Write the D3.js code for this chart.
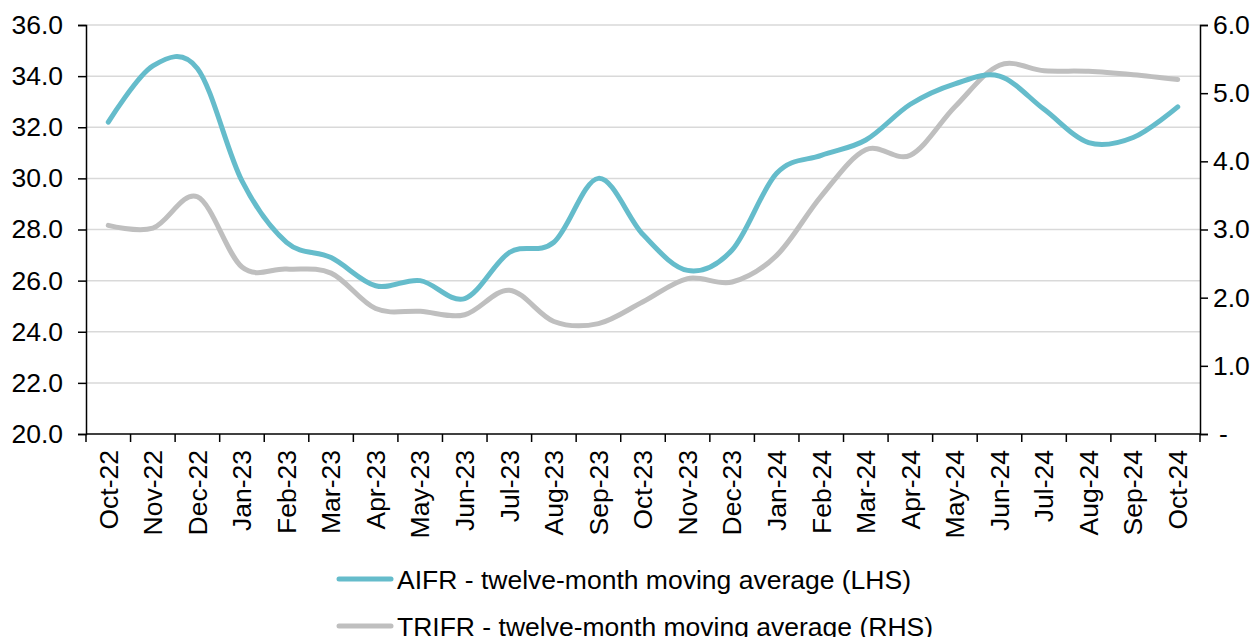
<!DOCTYPE html>
<html><head><meta charset="utf-8">
<script src="https://cdn.jsdelivr.net/npm/d3@7"></script>
<style>
html,body{margin:0;padding:0;background:#fff;}
svg{display:block;font-family:"Liberation Sans",Arial,sans-serif;}
</style></head>
<body><svg id="c" width="1257" height="637"></svg>
<script>
const months = ["Oct-22","Nov-22","Dec-22","Jan-23","Feb-23","Mar-23","Apr-23","May-23","Jun-23","Jul-23","Aug-23","Sep-23","Oct-23","Nov-23","Dec-23","Jan-24","Feb-24","Mar-24","Apr-24","May-24","Jun-24","Jul-24","Aug-24","Sep-24","Oct-24"];
const aifr = [32.2,34.4,34.3,29.9,27.5,26.9,25.8,26.0,25.3,27.1,27.5,30.0,27.8,26.4,27.2,30.2,30.9,31.5,32.9,33.7,34.0,32.7,31.4,31.6,32.8];
const trifr = [3.06,3.02,3.48,2.45,2.42,2.36,1.84,1.80,1.75,2.11,1.65,1.62,1.94,2.28,2.23,2.62,3.49,4.17,4.09,4.80,5.41,5.33,5.32,5.27,5.20];
const leftTicks = [20,22,24,26,28,30,32,34,36];
const rightTicks = [0,1,2,3,4,5,6];
const seriesNames = ["AIFR - twelve-month moving average (LHS)","TRIFR - twelve-month moving average (RHS)"];
const colors = ["#65BCCB","#BFBFBF"];

const svg = d3.select("#c");
const L = 86, R = 1200, T = 25, B = 434;
const x = d3.scaleBand().domain(months).range([L, R]).padding(0);
const yL = d3.scaleLinear().domain([20, 36]).range([B, T]);
const yR = d3.scaleLinear().domain([0, 6]).range([B, T]);
const fs = 26.5;
const ff = "Liberation Sans, Arial, sans-serif";

// gridlines
svg.append("g").selectAll("line").data(leftTicks.filter(d => d > 20)).join("line")
  .attr("x1", L).attr("x2", R).attr("y1", d => yL(d)).attr("y2", d => yL(d))
  .attr("stroke", "#D9D9D9").attr("stroke-width", 1.5);

// left axis
const gl = svg.append("g").attr("transform", `translate(${L},0)`)
  .call(d3.axisLeft(yL).tickValues(leftTicks).tickFormat(d3.format(".1f")).tickSize(8).tickPadding(15));
gl.selectAll("text").attr("font-size", fs).attr("fill", "#000").attr("font-family", ff);

// right axis
const gr = svg.append("g").attr("transform", `translate(${R},0)`)
  .call(d3.axisRight(yR).tickValues(rightTicks).tickFormat(d => d === 0 ? "-" : d3.format(".1f")(d)).tickSize(8).tickPadding(5));
gr.selectAll("text").attr("font-size", fs).attr("fill", "#000").attr("font-family", ff);
gr.selectAll("text").filter(d => d === 0).attr("dx", 6);

// bottom axis
const gb = svg.append("g").attr("transform", `translate(0,${B})`)
  .call(d3.axisBottom(x).tickSize(0).tickPadding(0));
gb.select(".domain").remove();
gb.selectAll("text").attr("font-size", fs).attr("fill", "#000").attr("font-family", ff)
  .attr("transform", "rotate(-90)").attr("text-anchor", "end")
  .attr("x", -16).attr("y", 0).attr("dy", "0.35em");
svg.append("line").attr("x1", L).attr("x2", R).attr("y1", B).attr("y2", B).attr("stroke", "#000").attr("stroke-width", 1.5);
const bounds = months.map(m => x(m)).concat([R]);
svg.append("g").selectAll("line").data(bounds).join("line")
  .attr("x1", d => d).attr("x2", d => d).attr("y1", B).attr("y2", B + 8)
  .attr("stroke", "#000").attr("stroke-width", 1.5);

svg.selectAll(".domain").attr("stroke", "#000").attr("stroke-width", 1.5);
svg.selectAll(".tick line").attr("stroke", "#000").attr("stroke-width", 1.5);

const cx = m => x(m) + x.bandwidth() / 2;
const curve = d3.curveCatmullRom.alpha(0);
const lineL = d3.line().x((d, i) => cx(months[i])).y(d => yL(d)).curve(curve);
const lineR = d3.line().x((d, i) => cx(months[i])).y(d => yR(d)).curve(curve);

svg.append("path").attr("d", lineR(trifr)).attr("fill", "none").attr("stroke", colors[1])
  .attr("stroke-width", 5).attr("stroke-linecap", "round").attr("stroke-linejoin", "round");
svg.append("path").attr("d", lineL(aifr)).attr("fill", "none").attr("stroke", colors[0])
  .attr("stroke-width", 5).attr("stroke-linecap", "round").attr("stroke-linejoin", "round");

// legend
const lg = svg.append("g");
seriesNames.forEach((n, i) => {
  const yy = 579 + i * 47;
  lg.append("line").attr("x1", 339).attr("x2", 391).attr("y1", yy).attr("y2", yy)
    .attr("stroke", colors[i]).attr("stroke-width", 5).attr("stroke-linecap", "round");
  lg.append("text").attr("x", 397).attr("y", yy + 10).attr("font-size", fs).attr("fill", "#000").attr("font-family", ff).text(n);
});
</script></body></html>
